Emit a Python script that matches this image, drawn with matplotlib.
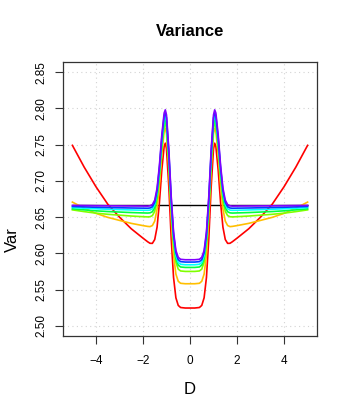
import matplotlib
matplotlib.use("Agg")
import matplotlib.pyplot as plt

plt.rcParams["font.family"] = ["Liberation Sans", "DejaVu Sans"]

# x grid (D) shared by all curves
D = [-5.0, -4.5, -4.0, -3.5, -3.0, -2.5, -2.0, -1.8, -1.7, -1.6, -1.5, -1.4,
     -1.3, -1.2, -1.1, -1.05, -1.0, -0.9, -0.8, -0.7, -0.6, -0.5, -0.4, -0.2,
     0.0,
     0.2, 0.4, 0.5, 0.6, 0.7, 0.8, 0.9, 1.0, 1.05, 1.1, 1.2, 1.3, 1.4, 1.5,
     1.6, 1.7, 1.8, 2.0, 2.5, 3.0, 3.5, 4.0, 4.5, 5.0]

var_red = [2.7490, 2.7190, 2.6920, 2.6680, 2.6500, 2.6340, 2.6210, 2.6160,
           2.6139, 2.6138, 2.6191, 2.6362, 2.6701, 2.7145, 2.7475, 2.7520,
           2.7443, 2.6915, 2.6210, 2.5669, 2.5387, 2.5282, 2.5253, 2.5246,
           2.5246,
           2.5246, 2.5253, 2.5282, 2.5387, 2.5669, 2.6210, 2.6915, 2.7443,
           2.7520, 2.7475, 2.7145, 2.6701, 2.6362, 2.6191, 2.6138, 2.6139,
           2.6160, 2.6210, 2.6340, 2.6500, 2.6680, 2.6920, 2.7190, 2.7490]

var_orange = [2.6707, 2.6624, 2.6552, 2.6497, 2.6455, 2.6414, 2.6383, 2.6372,
              2.6369, 2.6384, 2.6445, 2.6612, 2.6938, 2.7363, 2.7681, 2.7726,
              2.7653, 2.7155, 2.6490, 2.5980, 2.5714, 2.5615, 2.5587, 2.5581,
              2.5581,
              2.5581, 2.5587, 2.5615, 2.5714, 2.5980, 2.6490, 2.7155, 2.7653,
              2.7726, 2.7681, 2.7363, 2.6938, 2.6612, 2.6445, 2.6384, 2.6369,
              2.6372, 2.6383, 2.6414, 2.6455, 2.6497, 2.6552, 2.6624, 2.6707]

var_lime = [2.6600, 2.6576, 2.6555, 2.6539, 2.6527, 2.6515, 2.6506, 2.6503,
            2.6505, 2.6521, 2.6580, 2.6740, 2.7048, 2.7450, 2.7751, 2.7795,
            2.7726, 2.7251, 2.6618, 2.6131, 2.5878, 2.5783, 2.5757, 2.5751,
            2.5751,
            2.5751, 2.5757, 2.5783, 2.5878, 2.6131, 2.6618, 2.7251, 2.7726,
            2.7795, 2.7751, 2.7450, 2.7048, 2.6740, 2.6580, 2.6521, 2.6505,
            2.6503, 2.6506, 2.6515, 2.6527, 2.6539, 2.6555, 2.6576, 2.6600]

var_green = [2.6614, 2.6600, 2.6587, 2.6577, 2.6570, 2.6563, 2.6558, 2.6556,
             2.6559, 2.6574, 2.6633, 2.6793, 2.7099, 2.7498, 2.7796, 2.7840,
             2.7771, 2.7299, 2.6668, 2.6184, 2.5932, 2.5838, 2.5812, 2.5806,
             2.5806,
             2.5806, 2.5812, 2.5838, 2.5932, 2.6184, 2.6668, 2.7299, 2.7771,
             2.7840, 2.7796, 2.7498, 2.7099, 2.6793, 2.6633, 2.6574, 2.6559,
             2.6556, 2.6558, 2.6563, 2.6570, 2.6577, 2.6587, 2.6600, 2.6614]

var_cyan = [2.6633, 2.6623, 2.6615, 2.6609, 2.6604, 2.6599, 2.6595, 2.6594,
            2.6597, 2.6614, 2.6674, 2.6835, 2.7145, 2.7549, 2.7852, 2.7896,
            2.7826, 2.7350, 2.6713, 2.6225, 2.5970, 2.5875, 2.5849, 2.5843,
            2.5843,
            2.5843, 2.5849, 2.5875, 2.5970, 2.6225, 2.6713, 2.7350, 2.7826,
            2.7896, 2.7852, 2.7549, 2.7145, 2.6835, 2.6674, 2.6614, 2.6597,
            2.6594, 2.6595, 2.6599, 2.6604, 2.6609, 2.6615, 2.6623, 2.6633]

var_blue = [2.6647, 2.6641, 2.6636, 2.6632, 2.6629, 2.6626, 2.6624, 2.6623,
            2.6626, 2.6643, 2.6704, 2.6866, 2.7180, 2.7589, 2.7895, 2.7940,
            2.7870, 2.7392, 2.6753, 2.6263, 2.6008, 2.5913, 2.5886, 2.5880,
            2.5880,
            2.5880, 2.5886, 2.5913, 2.6008, 2.6263, 2.6753, 2.7392, 2.7870,
            2.7940, 2.7895, 2.7589, 2.7180, 2.6866, 2.6704, 2.6643, 2.6626,
            2.6623, 2.6624, 2.6626, 2.6629, 2.6632, 2.6636, 2.6641, 2.6647]

var_purple = [2.6662, 2.6660, 2.6658, 2.6656, 2.6655, 2.6654, 2.6653, 2.6652,
              2.6656, 2.6673, 2.6734, 2.6899, 2.7215, 2.7627, 2.7935, 2.7980,
              2.7910, 2.7430, 2.6789, 2.6297, 2.6040, 2.5945, 2.5918, 2.5912,
              2.5912,
              2.5912, 2.5918, 2.5945, 2.6040, 2.6297, 2.6789, 2.7430, 2.7910,
              2.7980, 2.7935, 2.7627, 2.7215, 2.6899, 2.6734, 2.6673, 2.6656,
              2.6652, 2.6653, 2.6654, 2.6655, 2.6656, 2.6658, 2.6660, 2.6662]

black_level = 2.6667

curves = [var_red, var_orange, var_lime, var_green, var_cyan, var_blue, var_purple]
colors = ["#FF0000", "#FFBF00", "#80FF00", "#00FF40", "#00FFFF", "#0040FF", "#8000FF"]

x_ticks = [-4, -2, 0, 2, 4]
y_ticks = [2.50, 2.55, 2.60, 2.65, 2.70, 2.75, 2.80, 2.85]

W, H = 349, 415
fig = plt.figure(figsize=(W / 100, H / 100), dpi=100)
ax = fig.add_axes([63 / W, 1 - 336 / H, (317 - 63) / W, (336 - 62) / H])

# R style grid()
for xt in x_ticks:
    ax.axvline(xt, color="#D3D3D3", lw=0.8, ls=(0, (1, 3)), zorder=0)
for yt in y_ticks:
    ax.axhline(yt, color="#D3D3D3", lw=0.8, ls=(0, (1, 3)), zorder=0)

ax.hlines(black_level, D[0], D[-1], color="black", lw=1.0, zorder=1)
for vals, c in zip(curves, colors):
    ax.plot(D, vals, color=c, lw=1.2, zorder=2)

ax.set_xlim(-5.4, 5.4)
ax.set_ylim(2.486, 2.864)
ax.set_xticks(x_ticks)
ax.set_xticklabels(["\u22124", "\u22122", "0", "2", "4"])
ax.set_yticks(y_ticks)
ax.set_yticklabels([f"{v:.2f}" for v in y_ticks], rotation=90, va="center")
ax.tick_params(axis="both", length=5.5, width=0.8, labelsize=8.5, color="#333333")
ax.tick_params(axis="x", pad=8)
ax.tick_params(axis="y", pad=6)
for s in ax.spines.values():
    s.set_linewidth(0.9)
    s.set_color("#333333")

fig.text(190 / W, 1 - 32 / H, "Variance", ha="center", va="center",
         fontsize=12, fontweight="bold")
fig.text(190 / W, 1 - 389 / H, "D", ha="center", va="center", fontsize=12)
fig.text(12 / W, 1 - 240 / H, "Var", ha="center", va="center", fontsize=12,
         rotation=90)

fig.savefig("out.png", dpi=100)
